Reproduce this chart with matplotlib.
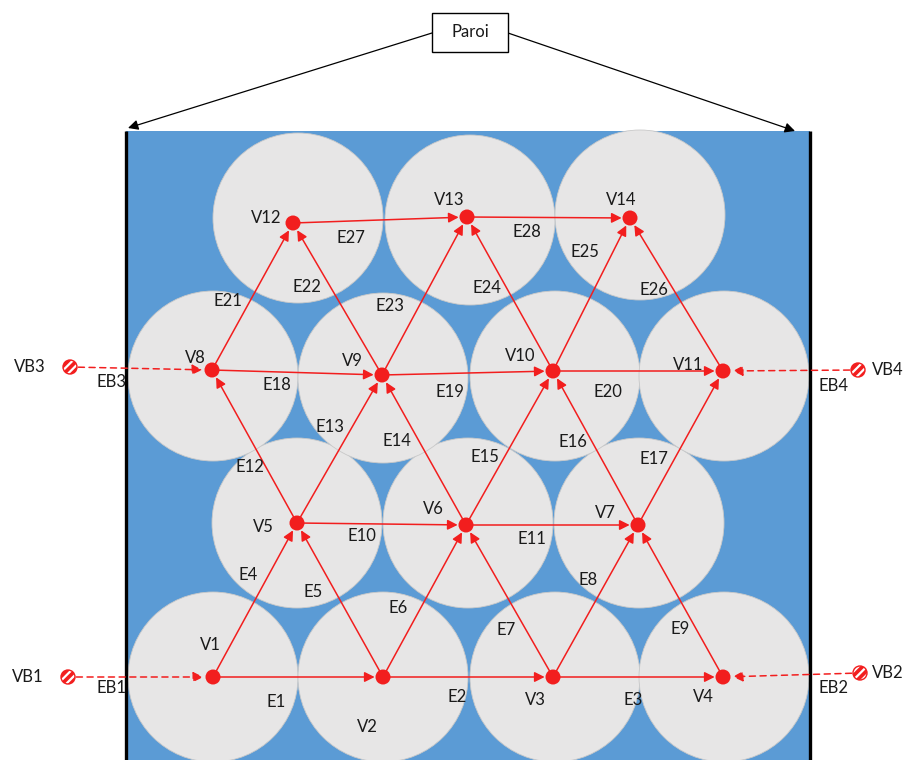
import matplotlib.pyplot as plt
from matplotlib.patches import Circle, Rectangle, FancyArrowPatch

# grains (circle centres, pixel coords of the drawing)
grain_x = [213, 383, 555, 724, 297, 468, 639, 213, 383, 555, 724, 298, 470, 640]
grain_y = [677, 677, 677, 677, 523, 523, 523, 376, 378, 376, 376, 218, 220, 215]
grain_r = 85

# nodes
node_names = ["V1", "V2", "V3", "V4", "V5", "V6", "V7", "V8", "V9", "V10", "V11", "V12", "V13", "V14"]
node_x = [213, 383, 553, 723, 297, 466, 638, 212, 382, 553, 723, 293, 467, 630]
node_y = [677, 677, 677, 677, 523, 525, 525, 370, 375, 371, 371, 223, 217, 218]
node_lx = [210, 367, 535, 703, 263, 433, 605, 195, 352, 520, 688, 266, 449, 621]
node_ly = [645, 727, 700, 697, 527, 509, 513, 358, 361, 356, 365, 218, 200, 200]

# edges: name, from, to, label position
edges = [
    ("E1", "V1", "V2", 276, 702), ("E2", "V2", "V3", 457, 697), ("E3", "V3", "V4", 633, 700),
    ("E4", "V1", "V5", 248, 575), ("E5", "V2", "V5", 313, 592), ("E6", "V2", "V6", 398, 608),
    ("E7", "V3", "V6", 506, 630), ("E8", "V3", "V7", 588, 580), ("E9", "V4", "V7", 680, 629),
    ("E10", "V5", "V6", 362, 536), ("E11", "V6", "V7", 532, 539), ("E12", "V5", "V8", 250, 467),
    ("E13", "V5", "V9", 330, 427), ("E14", "V6", "V9", 397, 441), ("E15", "V6", "V10", 485, 457),
    ("E16", "V7", "V10", 573, 442), ("E17", "V7", "V11", 654, 459), ("E18", "V8", "V9", 277, 385),
    ("E19", "V9", "V10", 450, 392), ("E20", "V10", "V11", 608, 392), ("E21", "V8", "V12", 228, 301),
    ("E22", "V9", "V12", 307, 287), ("E23", "V9", "V13", 390, 306), ("E24", "V10", "V13", 487, 288),
    ("E25", "V10", "V14", 585, 252), ("E26", "V11", "V14", 654, 290), ("E27", "V12", "V13", 351, 238),
    ("E28", "V13", "V14", 527, 232),
]

# boundary nodes: name, x, y, target node, label x, edge label, edge label x, y
bnodes = [
    ("VB1", 68, 677, "V1", 28, "EB1", 112, 688),
    ("VB2", 860, 673, "V4", 888, "EB2", 833, 688),
    ("VB3", 70, 367, "V8", 30, "EB3", 112, 382),
    ("VB4", 858, 370, "V11", 888, "EB4", 833, 386),
]

RED = "#F21E1E"
FONT = ["Lato", "DejaVu Sans"]
FS = 12
TXT = "#1A1A1A"

fig = plt.figure(figsize=(9.17, 7.6), dpi=100)
ax = fig.add_axes([0, 0, 1, 1])
ax.set_xlim(0, 917)
ax.set_ylim(760, 0)
ax.set_aspect("equal")
ax.axis("off")

box = Rectangle((126, 131), 684, 640, facecolor="#5B9BD5", edgecolor="none", zorder=1)
ax.add_patch(box)
for cx, cy in zip(grain_x, grain_y):
    c = Circle((cx, cy), grain_r, facecolor="#E7E6E6", edgecolor="#C9C9C9", lw=0.6, zorder=2)
    c.set_clip_path(box)
    ax.add_patch(c)

# walls
ax.plot([126, 126], [131, 760], color="black", lw=2.4, zorder=3, solid_capstyle="butt")
ax.plot([810, 810], [131, 760], color="black", lw=2.4, zorder=3, solid_capstyle="butt")

# Paroi label and arrows
ax.add_patch(Rectangle((432, 13), 76, 39, facecolor="white", edgecolor="black", lw=1.0, zorder=6))
ax.text(470, 32, "Paroi", ha="center", va="center", fontsize=FS, family=FONT, color=TXT, zorder=7)
for sx, tx, ty in [(432, 128, 128), (508, 795, 131)]:
    ax.add_patch(FancyArrowPatch((sx, 33), (tx, ty), arrowstyle="-|>,head_length=6,head_width=3",
                                 color="black", lw=0.9, shrinkA=0, shrinkB=0, zorder=5))

pos = {n: (x, y) for n, x, y in zip(node_names, node_x, node_y)}

for name, a, b, lx, ly in edges:
    ax.add_patch(FancyArrowPatch(pos[a], pos[b], arrowstyle="-|>,head_length=6,head_width=3",
                                 color=RED, lw=1.1, shrinkA=4, shrinkB=6, zorder=4))
    ax.text(lx, ly, name, ha="center", va="center", fontsize=FS, family=FONT, color=TXT, zorder=6)

for n, x, y, lx, ly in zip(node_names, node_x, node_y, node_lx, node_ly):
    ax.add_patch(Circle((x, y), 7.5, facecolor=RED, edgecolor="none", zorder=5))
    ax.text(lx, ly, n, ha="center", va="center", fontsize=FS, family=FONT, color=TXT, zorder=6)

plt.rcParams["hatch.linewidth"] = 1.6
for name, x, y, tgt, lx, ename, ex, ey in bnodes:
    tx, ty = pos[tgt]
    ax.add_patch(FancyArrowPatch((x, y), (tx, ty), arrowstyle="-|>,head_length=6,head_width=3",
                                 color=RED, lw=1.1, linestyle=(0, (4, 3)), shrinkA=6, shrinkB=7, zorder=4))
    ax.add_patch(Circle((x, y), 7, facecolor=RED, edgecolor="white", hatch="////", lw=0, zorder=5))
    ax.add_patch(Circle((x, y), 7, facecolor="none", edgecolor=RED, lw=1.0, zorder=5))
    ax.text(lx, y, name, ha="center", va="center", fontsize=FS, family=FONT, color=TXT, zorder=6)
    ax.text(ex, ey, ename, ha="center", va="center", fontsize=FS, family=FONT, color=TXT, zorder=6)

fig.savefig("out.png", dpi=100)
